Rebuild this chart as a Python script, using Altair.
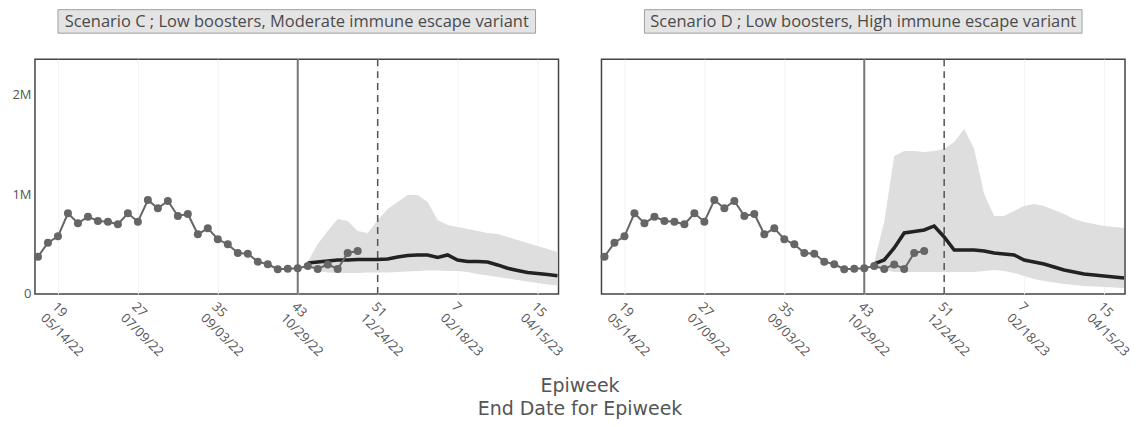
import altair as alt
import pandas as pd

# ---------------- data ----------------
obs_weeks = list(range(17, 50))
obs_cases_m = [0.373, 0.513, 0.577, 0.807, 0.707, 0.773, 0.730, 0.723, 0.697, 0.807,
               0.723, 0.940, 0.857, 0.930, 0.780, 0.800, 0.597, 0.657, 0.547, 0.497,
               0.410, 0.403, 0.323, 0.297, 0.247, 0.253, 0.257, 0.280, 0.250, 0.295,
               0.250, 0.410, 0.430]

proj_weeks = list(range(44, 70))
c_median_m = [0.31, 0.32, 0.33, 0.34, 0.34, 0.345, 0.345, 0.345, 0.35, 0.37, 0.385, 0.39, 0.39,
              0.365, 0.39, 0.34, 0.325, 0.325, 0.32, 0.29, 0.257, 0.235, 0.215, 0.205, 0.195, 0.183]
c_lower_m = [0.29, 0.23, 0.215, 0.21, 0.21, 0.21, 0.215, 0.215, 0.215, 0.22, 0.225, 0.23, 0.235,
             0.235, 0.23, 0.23, 0.22, 0.20, 0.185, 0.17, 0.155, 0.14, 0.125, 0.11, 0.095, 0.085]
c_upper_m = [0.32, 0.50, 0.63, 0.75, 0.73, 0.63, 0.61, 0.74, 0.85, 0.92, 0.99, 0.99, 0.92,
             0.74, 0.69, 0.67, 0.65, 0.63, 0.61, 0.60, 0.57, 0.54, 0.51, 0.48, 0.45, 0.42]

d_median_m = [0.30, 0.34, 0.46, 0.61, 0.625, 0.64, 0.68, 0.57, 0.44, 0.44, 0.44, 0.43, 0.41,
              0.40, 0.39, 0.34, 0.32, 0.30, 0.27, 0.24, 0.22, 0.20, 0.19, 0.18, 0.17, 0.16]
d_lower_m = [0.28, 0.24, 0.22, 0.22, 0.22, 0.22, 0.22, 0.22, 0.22, 0.22, 0.22, 0.23, 0.24,
             0.23, 0.21, 0.18, 0.15, 0.13, 0.115, 0.10, 0.09, 0.08, 0.075, 0.07, 0.065, 0.06]
d_upper_m = [0.32, 0.72, 1.38, 1.43, 1.43, 1.42, 1.43, 1.45, 1.52, 1.65, 1.45, 1.00, 0.78,
             0.78, 0.83, 0.88, 0.90, 0.88, 0.84, 0.80, 0.75, 0.72, 0.70, 0.68, 0.67, 0.66]

tick_weeks = [19, 27, 35, 43, 51, 59, 67]
tick_epiweeks = ["19", "27", "35", "43", "51", "7", "15"]
tick_dates = ["05/14/22", "07/09/22", "09/03/22", "10/29/22", "12/24/22", "02/18/23", "04/15/23"]

y_ticks = [0, 1_000_000, 2_000_000]
current_week = 43
projection_start_week = 51

titles = ["Scenario C ; Low boosters, Moderate immune escape variant",
          "Scenario D ; Low boosters, High immune escape variant"]
title_box_widths = [478, 438]
axis_titles = ["Epiweek", "End Date for Epiweek"]

# ---------------- chart ----------------
W, H = 524, 235
label_expr = " : ".join(
    f"datum.value == {w} ? ['{e}', '{d}']" for w, e, d in zip(tick_weeks, tick_epiweeks, tick_dates)
) + " : ''"

x_axis = alt.Axis(values=tick_weeks, labelExpr=label_expr, labelAngle=45, labelAlign="left",
                  labelBaseline="top", ticks=False, domain=False, grid=True, gridColor="#f3f3f3",
                  labelFontSize=13, labelColor="#555555", labelFont="Open Sans", labelPadding=6,
                  labelLineHeight=16, labelOverlap=False, labelFlush=False, labelBound=False,
                  title=None)
x_scale = alt.Scale(domain=[16.7, 69.1], nice=False, zero=False)
y_scale = alt.Scale(domain=[0, 2_350_000], nice=False)


def X(field):
    return alt.X(f"{field}:Q", scale=x_scale, axis=x_axis)


def Y(field, show):
    if show:
        ax = alt.Axis(values=y_ticks, labelExpr="datum.value == 0 ? '0' : (datum.value / 1000000) + 'M'",
                      ticks=False, domain=False, grid=False, labelFontSize=13, labelColor="#555555",
                      labelFont="Open Sans", labelPadding=4, title=None, minExtent=27, maxExtent=27)
    else:
        ax = None
    return alt.Y(f"{field}:Q", scale=y_scale, axis=ax)


obs_df = pd.DataFrame({"week": obs_weeks, "cases": [v * 1e6 for v in obs_cases_m]})


def panel(title, box_w, median, lower, upper, show_y):
    proj = pd.DataFrame({"week": proj_weeks,
                         "median": [v * 1e6 for v in median],
                         "lower": [v * 1e6 for v in lower],
                         "upper": [v * 1e6 for v in upper]})
    area = alt.Chart(proj).mark_area(color="#dedede").encode(
        x=X("week"), y=Y("upper", show_y), y2="lower:Q")
    rule_now = alt.Chart(pd.DataFrame({"week": [current_week]})).mark_rule(
        color="#777777", strokeWidth=2).encode(x=X("week"))
    rule_proj = alt.Chart(pd.DataFrame({"week": [projection_start_week]})).mark_rule(
        color="#555555", strokeWidth=1.5, strokeDash=[7, 5]).encode(x=X("week"))
    med = alt.Chart(proj).mark_line(color="#222222", strokeWidth=3.5).encode(
        x=X("week"), y=Y("median", show_y))
    obs_line = alt.Chart(obs_df).mark_line(color="#666666", strokeWidth=2).encode(
        x=X("week"), y=Y("cases", show_y))
    obs_pts = alt.Chart(obs_df).mark_circle(color="#666666", size=64, opacity=1).encode(
        x=X("week"), y=Y("cases", show_y))
    tdf = pd.DataFrame({"t": [title]})
    box = alt.Chart(tdf).mark_rect(fill="#e4e4e4", stroke="#a0a0a0", strokeWidth=1).encode(
        x=alt.value(W / 2 - box_w / 2), x2=alt.value(W / 2 + box_w / 2),
        y=alt.value(-49.5), y2=alt.value(-26))
    txt = alt.Chart(tdf).mark_text(font="Open Sans", fontSize=16.5, color="#4a4a4a").encode(
        text="t:N", x=alt.value(W / 2), y=alt.value(-37.5))
    layers = [area, rule_now, rule_proj, med, obs_line, obs_pts, box, txt]
    if show_y:
        spacer = alt.Chart(tdf).mark_rule(color="white").encode(
            x=alt.value(-27), y=alt.value(0), y2=alt.value(5))
        at1 = alt.Chart(pd.DataFrame({"t": [axis_titles[0]]})).mark_text(
            font="DejaVu Sans", fontSize=19, color="#555555").encode(
            text="t:N", x=alt.value(545.5), y=alt.value(327))
        at2 = alt.Chart(pd.DataFrame({"t": [axis_titles[1]]})).mark_text(
            font="DejaVu Sans", fontSize=19, color="#555555").encode(
            text="t:N", x=alt.value(545.5), y=alt.value(350))
        layers += [spacer, at1, at2]
    return alt.layer(*layers).properties(width=W, height=H)


left = panel(titles[0], title_box_widths[0], c_median_m, c_lower_m, c_upper_m, True)
right = panel(titles[1], title_box_widths[1], d_median_m, d_lower_m, d_upper_m, False)

chart = alt.hconcat(left, right, spacing=43, bounds="flush",
                    padding={"left": -2, "top": 0, "right": -7, "bottom": 0}).configure_view(
    stroke="#444444", strokeWidth=1.5)

chart.save("out.html", embed_options={"renderer": "svg", "actions": False})
